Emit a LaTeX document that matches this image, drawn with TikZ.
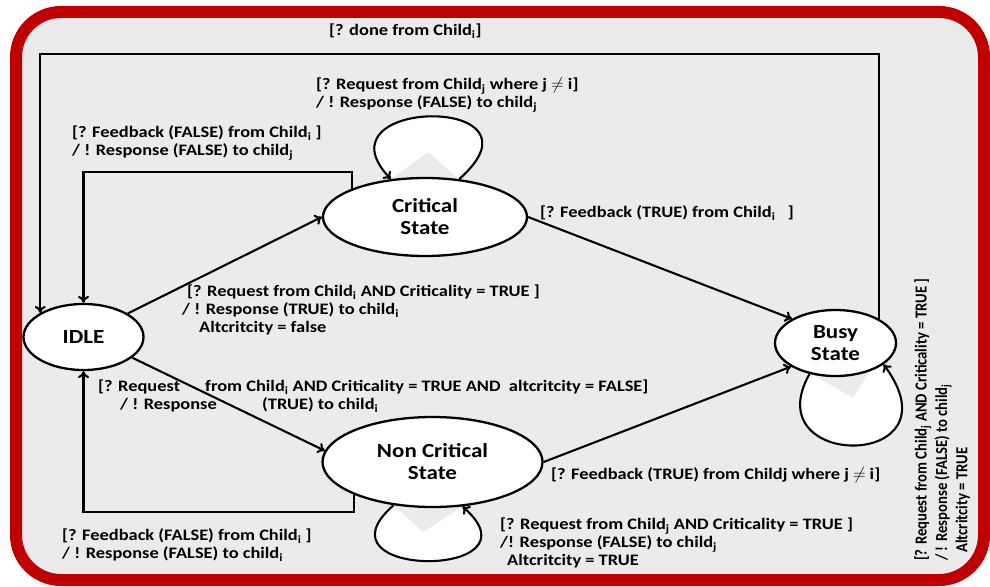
\documentclass[tikz,border=0pt]{standalone}
\usepackage{fontspec}
\setmainfont{Carlito}[FakeStretch=1.15]
\usetikzlibrary{arrows.meta,shapes.geometric}
\definecolor{framered}{HTML}{C00000}
\definecolor{panel}{HTML}{EBEBEB}
\pgfdeclarelayer{bg}
\pgfdeclarelayer{loops}
\pgfsetlayers{bg,loops,main}
\begin{document}
\begin{tikzpicture}[x=1pt,y=-1pt,
  lbl/.style={font=\fontsize{16}{18}\selectfont\bfseries, align=left, inner sep=0pt, anchor=west},
  state/.style={ellipse, draw, line width=2.3pt, fill=white, inner sep=0pt,
    font=\fontsize{20}{22}\selectfont\bfseries, align=center},
  conn/.style={line width=2.1pt, -{To[length=7pt,width=11pt]}},
  wedge/.style={fill=panel}
]
\useasboundingbox (0,0) rectangle (990,586);

% backdrop and red frame
\begin{pgfonlayer}{bg}
  \fill[white] (0,0) rectangle (990,586);
  \draw[framered, line width=12pt, fill=panel, rounded corners=45pt] (16,12) rectangle (984,580);
\end{pgfonlayer}

% states
\node[state, minimum width=120pt, minimum height=66pt] (idle) at (83.5,337) {IDLE};
\node[state, minimum width=204pt, minimum height=78pt] (crit) at (425,217) {Critical\\State};
\node[state, minimum width=220pt, minimum height=90pt] (noncrit) at (432.5,462) {Non Critical\\State};
\node[state, minimum width=121pt, minimum height=66pt] (busy) at (835.5,343) {Busy\\State};

% helper rails for the routed returns
\coordinate (topline) at (0,54);
\coordinate (fbtop) at (0,172);
\coordinate (fbbot) at (0,512);

% transitions
\draw[conn] (busy.north east) -- (busy.north east |- topline) -| (idle.north west);
\draw[conn] (crit.north west) -- (crit.north west |- fbtop) -| (idle.north);
\draw[conn] (noncrit.south west) -- (noncrit.south west |- fbbot) -| (idle.south);
\draw[conn] (idle.28) -- (crit.west);
\draw[conn] (idle.337) -- (noncrit.174);
\draw[conn] (crit.east) -- (busy.151);
\draw[conn] (noncrit.east) -- (busy.208);

% self loops, behind the states
\begin{pgfonlayer}{loops}
  \draw[conn, fill=white] (crit.48) .. controls +(97,-85) and +(-78,-82) .. (crit.132);
  \fill[wedge] (crit.132) -- (428,152) -- (crit.48) -- cycle;
  \draw[conn, fill=white] (noncrit.228) .. controls +(-85,74) and +(83,73) .. (noncrit.304);
  \fill[wedge] (noncrit.228) -- (423,532) -- (noncrit.304) -- cycle;
  \draw[conn, fill=white] (busy.230) .. controls +(-55,97) and +(78,106) .. (busy.336);
  \fill[wedge] (busy.235) -- (853,398) -- (busy.320) -- cycle;
\end{pgfonlayer}

% guards and actions
\node[lbl] (lDone) at (329,31) {[? done from Child\textsubscript{i}]};
\node[lbl] (lCritLoop) at (316,95) {[? Request from Child\textsubscript{j} where j $\neq$ i]\\/ ! Response (FALSE) to child\textsubscript{j}};
\node[lbl] (lFbTop) at (72,143) {[? Feedback (FALSE) from Child\textsubscript{i} ]\\/ ! Response (FALSE) to child\textsubscript{j}};
\node[lbl] (lReqCrit) at (182,310) {\hspace{5pt}[? Request from Child\textsubscript{i} AND Criticality = TRUE ]\\/ ! Response (TRUE) to child\textsubscript{i}\\\hspace{17pt}Altcritcity = false};
\node[lbl] (lReqNon) at (98,396) {\makebox[107pt][l]{[? Request}from Child\textsubscript{i} AND Criticality = TRUE AND\ \ altcritcity = FALSE]\\\hspace{22pt}\makebox[142pt][l]{/ ! Response}(TRUE) to child\textsubscript{i}};
\node[lbl] (lFbCrit) at (540,213) {[? Feedback (TRUE) from Child\textsubscript{i}\ \ \ ]};
\node[lbl] (lFbNon) at (551,475) {[? Feedback (TRUE) from Childj where j $\neq$ i]};
\node[lbl] (lNonLoop) at (500,543) {[? Request from Child\textsubscript{j} AND Criticality = TRUE ]\\/! Response (FALSE) to child\textsubscript{j}\\\hspace{7pt}Altcritcity = TRUE};
\node[lbl] (lFbBot) at (62,545) {[? Feedback (FALSE) from Child\textsubscript{i} ]\\/ ! Response (FALSE) to child\textsubscript{i}};
\node[lbl, rotate=90, anchor=north west, font=\fontsize{16}{19.5}\selectfont\bfseries] (lBusyLoop) at (912,561)
  {\scalebox{0.8}[1.05]{\begin{tabular}{@{}l@{}}[? Request from Child\textsubscript{j} AND Criticality = TRUE ]\\/ ! Response (FALSE) to child\textsubscript{j}\\\hspace{10pt}Altcritcity = TRUE\end{tabular}}};
\end{tikzpicture}
\end{document}
